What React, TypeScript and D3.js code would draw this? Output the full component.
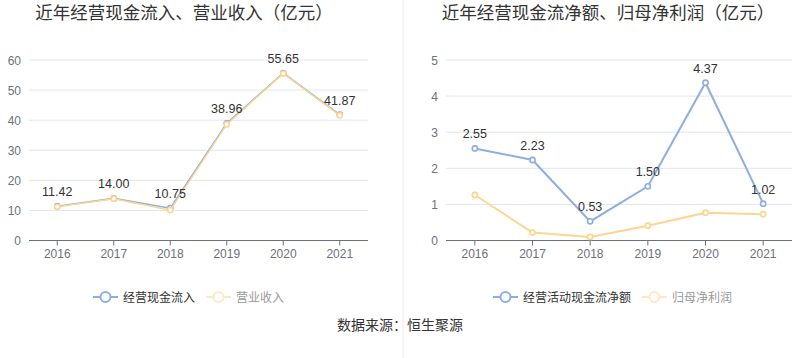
import React from "react";
import * as d3 from "d3";

const years = ["2016", "2017", "2018", "2019", "2020", "2021"];
const cashInflow = [11.42, 14.0, 10.75, 38.96, 55.65, 41.87];
const revenue = [11.2, 13.9, 10.1, 38.6, 55.5, 41.6];
const netCashFlow = [2.55, 2.23, 0.53, 1.5, 4.37, 1.02];
const netProfit = [1.26, 0.22, 0.1, 0.41, 0.77, 0.73];
const leftTicks = [0, 10, 20, 30, 40, 50, 60];
const rightTicks = [0, 1, 2, 3, 4, 5];

const BLUE = "#8eaedf";
const YELLOW = "#fdd58f";
const FONT = "'Liberation Sans', 'Noto Sans CJK SC', sans-serif";
const CJK = "'Noto Sans CJK SC', sans-serif";

type PanelProps = {
  x0: number;
  x1: number;
  yMax: number;
  ticks: number[];
  a: number[];
  b: number[];
  width: number;
  title: string;
  titleX: number;
  legendA: string;
  legendB: string;
  legendX: number;
  legendBX: number;
};

function Panel(p: PanelProps) {
  const x = d3.scaleBand().domain(years).range([p.x0, p.x1]);
  const y = d3.scaleLinear().domain([0, p.yMax]).range([240.5, 60]);
  const cx = (d: string) => (x(d) as number) + x.bandwidth() / 2;
  const line = d3
    .line<number>()
    .x((_, i) => cx(years[i]))
    .y((v) => y(v));
  return (
    <g>
      <text x={p.titleX} y={19} textAnchor="middle" fontSize={17.5} fill="#333" fontFamily={CJK}>
        {p.title}
      </text>
      {p.ticks.map((t) => (
        <g key={t}>
          {t > 0 && (
            <line x1={p.x0} x2={p.x1} y1={y(t)} y2={y(t)} stroke="#e0e6f1" strokeWidth={1} />
          )}
          <text x={p.x0 - 8} y={y(t) + 4.5} textAnchor="end" fontSize={12} fill="#6e7079" fontFamily={FONT}>
            {t}
          </text>
        </g>
      ))}
      <line x1={p.x0} x2={p.x1} y1={y(0)} y2={y(0)} stroke="#6e7079" strokeWidth={1} />
      {years.map((yr) => (
        <g key={yr}>
          <line x1={cx(yr)} x2={cx(yr)} y1={y(0)} y2={y(0) + 5} stroke="#6e7079" />
          <text x={cx(yr)} y={258} textAnchor="middle" fontSize={12} fill="#6e7079" fontFamily={FONT}>
            {yr}
          </text>
        </g>
      ))}
      <path d={line(p.a) || ""} fill="none" stroke={BLUE} strokeWidth={p.width} />
      {p.a.map((v, i) => (
        <circle key={"a" + i} cx={cx(years[i])} cy={y(v)} r={2.6} fill="#fff" stroke={BLUE} strokeWidth={1.6} />
      ))}
      <path d={line(p.b) || ""} fill="none" stroke={YELLOW} strokeWidth={p.width} />
      {p.b.map((v, i) => (
        <circle key={"b" + i} cx={cx(years[i])} cy={y(v)} r={2.6} fill="#fff" stroke={YELLOW} strokeWidth={1.6} />
      ))}
      {p.a.map((v, i) => (
        <text key={"l" + i} x={cx(years[i])} y={y(v) - 10} textAnchor="middle" fontSize={12.5} fill="#333" fontFamily={FONT}>
          {v.toFixed(2)}
        </text>
      ))}
      <g>
        <line x1={p.legendX} x2={p.legendX + 25} y1={297} y2={297} stroke={BLUE} strokeWidth={2} />
        <circle cx={p.legendX + 12.5} cy={297} r={5} fill="#fff" stroke={BLUE} strokeWidth={2} />
        <text x={p.legendX + 30} y={301.5} fontSize={12} fill="#333" fontFamily={CJK}>
          {p.legendA}
        </text>
        <line x1={p.legendBX} x2={p.legendBX + 25} y1={297} y2={297} stroke="#fde8c6" strokeWidth={2} />
        <circle cx={p.legendBX + 12.5} cy={297} r={5} fill="#fff" stroke="#fde8c6" strokeWidth={2} />
        <text x={p.legendBX + 30} y={301.5} fontSize={12} fill="#999" fontFamily={CJK}>
          {p.legendB}
        </text>
      </g>
    </g>
  );
}

export default function App() {
  return (
    <svg
      width={800}
      height={358}
      style={{ position: "absolute", left: 0, top: 0, background: "#fff" }}
    >
      <rect width={800} height={358} fill="#fff" />
      <line x1={403} x2={403} y1={0} y2={358} stroke="#ececec" strokeWidth={1} />
      <Panel
        x0={29}
        x1={368}
        yMax={60}
        ticks={leftTicks}
        a={cashInflow}
        b={revenue}
        width={1.5}
        title="近年经营现金流入、营业收入（亿元）"
        titleX={184}
        legendA="经营现金流入"
        legendB="营业收入"
        legendX={93}
        legendBX={206}
      />
      <Panel
        x0={446}
        x1={792}
        yMax={5}
        ticks={rightTicks}
        a={netCashFlow}
        b={netProfit}
        width={2}
        title="近年经营现金流净额、归母净利润（亿元）"
        titleX={608}
        legendA="经营活动现金流净额"
        legendB="归母净利润"
        legendX={493}
        legendBX={642}
      />
      <text x={400} y={330} textAnchor="middle" fontSize={14} fill="#333" fontFamily={CJK}>
        数据来源：恒生聚源
      </text>
    </svg>
  );
}
